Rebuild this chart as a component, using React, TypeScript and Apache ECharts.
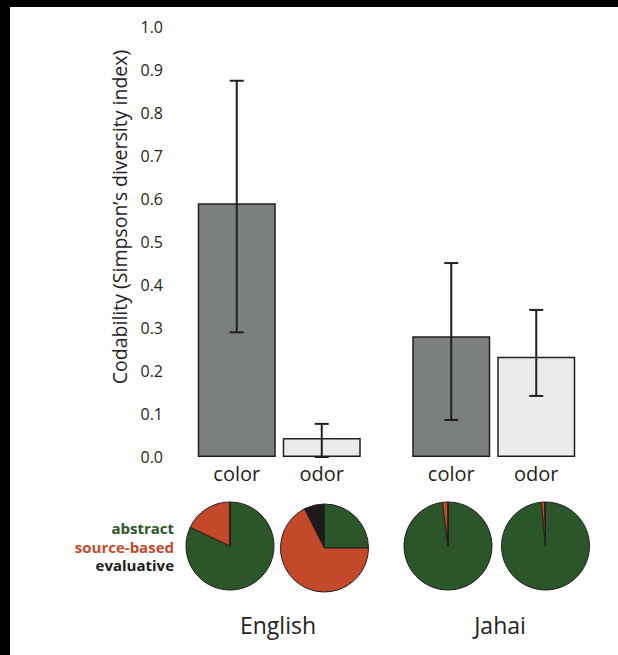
import React, { useEffect, useRef } from "react";
import * as echarts from "echarts";

const groups = ["English", "Jahai"];
const conditions = ["color", "odor"];
const colorMeans = [0.59, 0.281];
const odorMeans = [0.044, 0.233];
const colorErrLow = [0.29, 0.086];
const colorErrHigh = [0.875, 0.451];
const odorErrLow = [0.0, 0.142];
const odorErrHigh = [0.077, 0.342];
const yTicks = [0, 0.1, 0.2, 0.3, 0.4, 0.5, 0.6, 0.7, 0.8, 0.9, 1.0];
const pieLabels = ["English color", "English odor", "Jahai color", "Jahai odor"];
const pieAbstract = [0.82, 0.25, 0.98, 0.985];
const pieSource = [0.18, 0.675, 0.02, 0.012];
const pieEvaluative = [0, 0.075, 0, 0.003];
const codeTypes = ["abstract", "source-based", "evaluative"];

const FONT = "Open Sans";
const INK = "#231f20";
const BAR_W = 78;
const BAR_STEP = 85;
const pieCenters: [number, number][] = [
  [230, 546],
  [324.5, 548],
  [448, 546],
  [545.5, 546],
];
const codeColors = ["#2b5629", "#c4492b", "#1c1a1a"];

function errSeries(name: string, low: number[], high: number[], offset: number) {
  return {
    type: "custom",
    name,
    data: groups.map((_, i) => [i, low[i], high[i]]),
    renderItem: (params: any, api: any) => {
      const lo = api.coord([api.value(0), api.value(1)]);
      const hi = api.coord([api.value(0), api.value(2)]);
      const x = lo[0] + offset;
      const cap = 7;
      const style = { stroke: INK, lineWidth: 2 };
      return {
        type: "group",
        children: [
          { type: "line", shape: { x1: x, y1: lo[1], x2: x, y2: hi[1] }, style },
          { type: "line", shape: { x1: x - cap, y1: lo[1], x2: x + cap, y2: lo[1] }, style },
          { type: "line", shape: { x1: x - cap, y1: hi[1], x2: x + cap, y2: hi[1] }, style },
        ],
      };
    },
    z: 5,
  };
}

export default function App() {
  const ref = useRef<HTMLDivElement>(null);
  useEffect(() => {
    if (!ref.current) return;
    const chart = echarts.init(ref.current, null, { renderer: "svg" });
    const barLabel = {
      show: true,
      position: "bottom",
      distance: 6,
      formatter: (p: any) => p.seriesName,
      fontFamily: FONT,
      fontSize: 20,
      color: INK,
    };
    const pies = pieLabels.map((name, i) => ({
      type: "pie",
      name,
      center: pieCenters[i],
      radius: 44,
      startAngle: 90,
      clockwise: true,
      label: { show: false },
      labelLine: { show: false },
      emphasis: { disabled: true },
      itemStyle: { borderColor: INK, borderWidth: 1 },
      data: codeTypes.map((t, k) => ({
        name: t,
        value: [pieAbstract, pieSource, pieEvaluative][k][i],
        itemStyle: { color: codeColors[k] },
      })),
    }));
    chart.setOption({
      animation: false,
      backgroundColor: "#ffffff",
      grid: { left: 172, right: 17, top: 27, bottom: 198 },
      xAxis: {
        type: "category",
        data: groups,
        axisLine: { show: false },
        axisTick: { show: false },
        axisLabel: { show: false },
      },
      yAxis: {
        type: "value",
        min: yTicks[0],
        max: yTicks[yTicks.length - 1],
        interval: 0.1,
        axisLine: { show: false },
        axisTick: { show: false },
        splitLine: { show: false },
        axisLabel: {
          formatter: (v: number) => v.toFixed(1),
          fontFamily: FONT,
          fontSize: 16,
          color: INK,
          margin: 9,
        },
      },
      series: [
        {
          type: "bar",
          name: conditions[0],
          data: colorMeans,
          barWidth: BAR_W,
          barGap: ((BAR_STEP - BAR_W) / BAR_W) * 100 + "%",
          itemStyle: { color: "#7b7f7f", borderColor: INK, borderWidth: 1.5 },
          label: barLabel,
        },
        {
          type: "bar",
          name: conditions[1],
          data: odorMeans,
          barWidth: BAR_W,
          itemStyle: { color: "#ebebeb", borderColor: INK, borderWidth: 1.5 },
          label: barLabel,
        },
        errSeries("color error", colorErrLow, colorErrHigh, -BAR_STEP / 2),
        errSeries("odor error", odorErrLow, odorErrHigh, BAR_STEP / 2),
        ...pies,
      ],
      graphic: [
        { type: "rect", shape: { x: 0, y: 0, width: 618, height: 7 }, style: { fill: "#000" } },
        { type: "rect", shape: { x: 0, y: 0, width: 10, height: 655 }, style: { fill: "#000" } },
        {
          type: "text",
          x: 119,
          y: 217,
          rotation: Math.PI / 2,
          style: {
            text: "Codability (Simpson\u2019s diversity index)",
            font: `19.5px "${FONT}"`,
            fill: INK,
            align: "center",
            verticalAlign: "middle",
          },
        },
        ...codeTypes.map((t, k) => ({
          type: "text",
          x: 174,
          y: 528 + k * 18.5,
          style: {
            text: t,
            font: `bold 15px "${FONT}"`,
            fill: codeColors[k],
            align: "right",
            verticalAlign: "middle",
          },
        })),
        {
          type: "text",
          x: 278,
          y: 625,
          style: { text: groups[0], font: `23px "${FONT}"`, fill: INK, align: "center", verticalAlign: "middle" },
        },
        {
          type: "text",
          x: 500,
          y: 625,
          style: { text: groups[1], font: `23px "${FONT}"`, fill: INK, align: "center", verticalAlign: "middle" },
        },
      ],
    });
    return () => chart.dispose();
  }, []);
  return <div ref={ref} style={{ position: "fixed", left: 0, top: 0, width: 618, height: 655 }} />;
}
